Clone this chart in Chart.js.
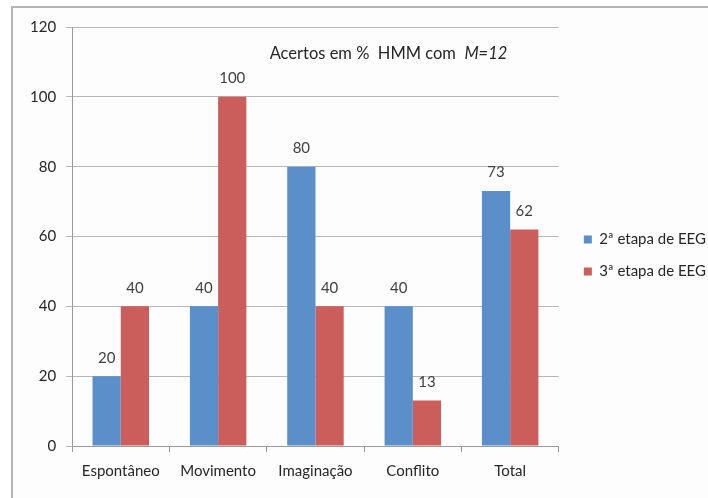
<!DOCTYPE html>
<html>
<head>
<meta charset="utf-8">
<script src="https://cdn.jsdelivr.net/npm/chart.js@4/dist/chart.umd.min.js"></script>
<style>
  html, body { margin: 0; padding: 0; background: #ffffff; }
  body { width: 708px; height: 498px; overflow: hidden; position: relative; }
  .moldura {
    position: absolute; left: 11px; top: 6px; width: 740px; height: 540px;
    border: 2px solid #b4b4b4; background: #fdfdfd;
  }
  #grafico { position: absolute; left: 0; top: 0; }
</style>
</head>
<body>
<div class="moldura"></div>
<canvas id="grafico" width="708" height="498"></canvas>
<script>
const categorias = ["Espontâneo", "Movimento", "Imaginação", "Conflito", "Total"]
const etapa2 = [20, 40, 80, 40, 73]
const etapa3 = [40, 100, 40, 13, 62]
const rotulosSeries = ["2ª etapa de EEG", "3ª etapa de EEG"]
const fonte = "Lato, 'Open Sans', sans-serif"

// Valores escritos por cima de cada barra
const valoresNasBarras = {
    id: "valoresNasBarras",
    afterDatasetsDraw(chart) {
        const ctx = chart.ctx
        ctx.save()
        ctx.font = "15px " + fonte
        ctx.fillStyle = "#404040"
        ctx.textAlign = "center"
        ctx.textBaseline = "bottom"
        chart.data.datasets.forEach((ds, i) => {
            chart.getDatasetMeta(i).data.forEach((barra, j) => {
                ctx.fillText(String(ds.data[j]), barra.x, barra.y - 11)
            })
        })
        ctx.restore()
    }
}

// Título dentro da área do gráfico, com "M=12" em itálico
const tituloInterno = {
    id: "tituloInterno",
    afterDraw(chart) {
        const ctx = chart.ctx
        const area = chart.chartArea
        ctx.save()
        ctx.fillStyle = "#262626"
        ctx.textBaseline = "middle"
        const parte1 = "Acertos em %  HMM com  "
        const parte2 = "M=12"
        ctx.font = "16.5px " + fonte
        const w1 = ctx.measureText(parte1).width
        ctx.font = "italic 16.5px " + fonte
        const w2 = ctx.measureText(parte2).width
        const x0 = area.left + (area.right - area.left) * 0.65 - (w1 + w2) / 2
        const y0 = area.top + 27
        ctx.font = "16.5px " + fonte
        ctx.textAlign = "left"
        ctx.fillText(parte1, x0, y0)
        ctx.font = "italic 16.5px " + fonte
        ctx.fillText(parte2, x0 + w1, y0)
        ctx.restore()
    }
}

// Afasta a legenda um pouco mais da área do gráfico
const deslocaLegenda = {
    id: "deslocaLegenda",
    afterLayout(chart) {
        if (chart.legend) {
            chart.legend.left += 8
            chart.legend.right += 8
            chart.legend.top -= 3
            chart.legend.bottom -= 3
        }
    }
}

const data = {
    labels: categorias,
    datasets: [{
        label: rotulosSeries[0],
        data: etapa2,
        backgroundColor: "#5a8fc9",
    }, {
        label: rotulosSeries[1],
        data: etapa3,
        backgroundColor: "#cb5e5b",
    }],
}

const config = {
    type: "bar",
    data: data,
    options: {
        responsive: false,
        animation: false,
        layout: { padding: { left: 20, top: 27, right: 0, bottom: 8 } },
        datasets: {
            bar: { barPercentage: 1, categoryPercentage: 0.58 }
        },
        scales: {
            x: {
                grid: {
                    offset: true,
                    drawOnChartArea: false,
                    color: "#9a9a9a",
                    tickLength: 6,
                },
                border: { color: "#9a9a9a" },
                ticks: { color: "#262626", font: { family: fonte, size: 15 }, padding: 10 },
            },
            y: {
                min: 0,
                max: 120,
                ticks: { stepSize: 20, color: "#262626", font: { family: fonte, size: 15 }, padding: 10 },
                grid: { color: "#b8b8b8", tickLength: 6 },
                border: { color: "#9a9a9a" },
            },
        },
        plugins: {
            legend: {
                position: "right",
                labels: {
                    boxWidth: 8,
                    boxHeight: 8,
                    color: "#262626",
                    font: { family: fonte, size: 15 },
                    padding: 17,
                },
            },
            tooltip: { enabled: false },
        },
    },
    plugins: [valoresNasBarras, tituloInterno, deslocaLegenda],
}

const graficoAcertos = new Chart(document.querySelector("#grafico"), config)
</script>
</body>
</html>
